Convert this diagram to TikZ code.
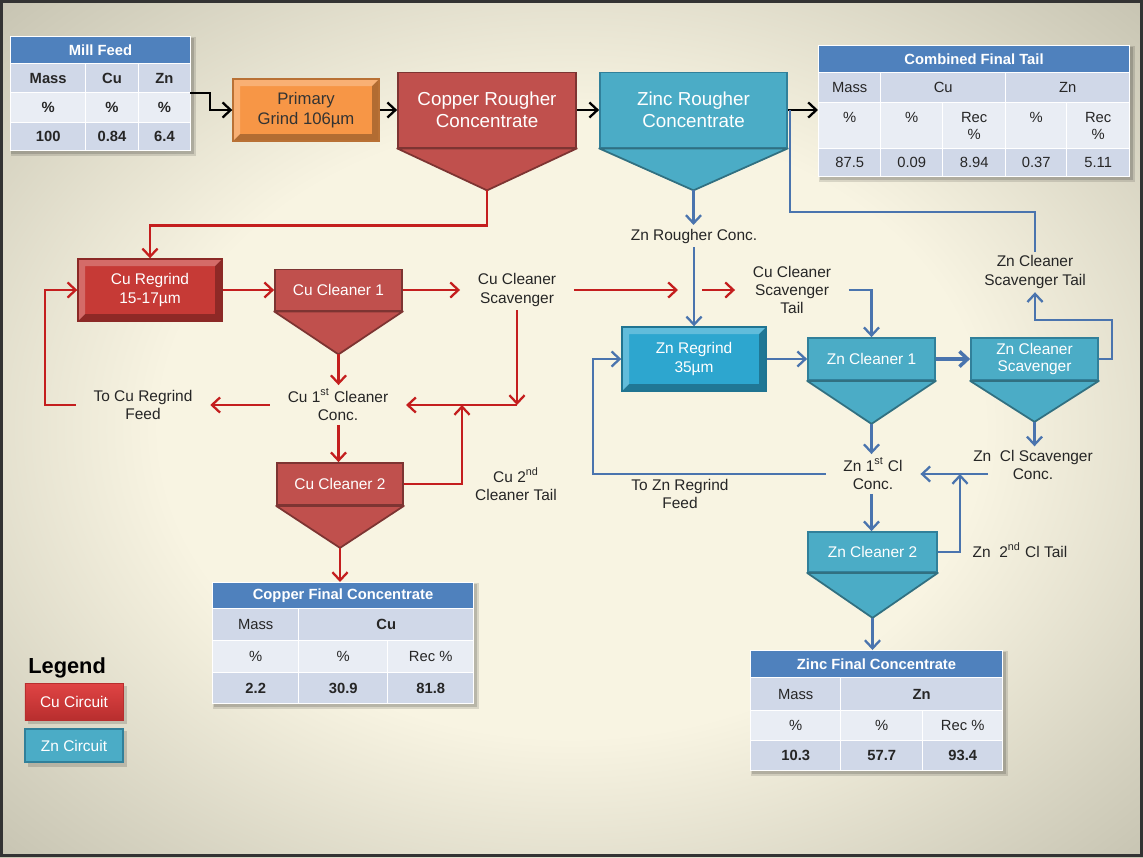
\documentclass[tikz,border=0pt]{standalone}
\usepackage{fontspec}
\setmainfont{Liberation Sans}
\usetikzlibrary{arrows.meta,calc}

\definecolor{cured}{HTML}{C0504D}
\definecolor{znblue}{HTML}{4BACC6}
\definecolor{zndark}{HTML}{31809A}
\definecolor{culine}{HTML}{C41E1E}
\definecolor{znline}{HTML}{4A74AE}
\definecolor{hdrblue}{HTML}{4F81BD}
\definecolor{rowdark}{HTML}{D0D8E8}
\definecolor{rowlight}{HTML}{E9EDF4}
\definecolor{grindorange}{HTML}{F79646}
\definecolor{regrindred}{HTML}{C63A36}
\definecolor{regrindblue}{HTML}{2DA6CF}
\definecolor{legtop}{HTML}{E04444}
\definecolor{legbottom}{HTML}{B82E2E}
\definecolor{bgin}{HTML}{F8F4E2}
\definecolor{bgout}{HTML}{9E9C8A}
\pgfdeclareradialshading{paper}{\pgfpoint{0bp}{0bp}}{color(0bp)=(bgin); color(18bp)=(bgin); color(50bp)=(bgout)}

\newcommand{\lblfont}{\fontsize{8.8}{10.4}\selectfont}
\newcommand{\tabfont}{\fontsize{8.4}{9.6}\selectfont}
\newcommand{\ttlfont}{\fontsize{10.7}{12.6}\selectfont}
\newcommand{\grindfont}{\fontsize{9.5}{11.4}\selectfont}

\begin{document}
\begin{tikzpicture}[
            >={Straight Barb[length=4.6pt,width=8.6pt]}, % open arrow heads
            cucell/.style={rectangle, fill=cured, draw=cured!65!black, line width=1pt,
                text=white, font=\lblfont, inner sep=0pt},
            zncell/.style={rectangle, fill=znblue, draw=zndark, line width=1pt,
                text=white, font=\lblfont, inner sep=0pt},
            grind/.style={rectangle, inner sep=0pt, line width=0.8pt, align=center,
                path picture={
                \fill[black, opacity=0.28] (path picture bounding box.south west)
                    -- (path picture bounding box.south east)
                    -- (path picture bounding box.north east)
                    -- ([shift={(-0.14,-0.14)}]path picture bounding box.north east)
                    -- ([shift={(-0.14,0.14)}]path picture bounding box.south east)
                    -- ([shift={(0.14,0.14)}]path picture bounding box.south west) -- cycle;
                \fill[white, opacity=0.25] (path picture bounding box.south west)
                    -- ([shift={(0.14,0.14)}]path picture bounding box.south west)
                    -- ([shift={(0.14,-0.14)}]path picture bounding box.north west)
                    -- ([shift={(-0.14,-0.14)}]path picture bounding box.north east)
                    -- (path picture bounding box.north east)
                    -- (path picture bounding box.north west) -- cycle;
                }},
            flowtext/.style={font=\lblfont, text=black!85, align=center,
                inner xsep=0.35cm, inner ysep=2pt},
            thead/.style={fill=hdrblue, draw=white, line width=0.6pt, text=white,
                font=\tabfont\bfseries, inner sep=0pt, anchor=north west},
            tcell/.style={draw=white, line width=0.8pt, inner sep=0pt, anchor=north west,
                font=\tabfont, align=center, text=black!85},
            legbox/.style={rectangle, text=white, font=\lblfont, inner sep=0pt,
                minimum width=1.96cm},
            feed arrow/.style={->, draw=black, line width=1.3pt},
            cu arrow/.style={->, draw=culine, line width=1.3pt},
            zn arrow/.style={->, draw=znline, line width=1.3pt},
            zn line/.style={draw=znline, line width=1.3pt}
            ]
            \useasboundingbox (0,0) rectangle (22.86,-17.14);
            \shade[shading=paper] (0,0) rectangle (22.86,-17.14);
            \draw[line width=1.2pt, black!80] (0.03,-0.03) rectangle (22.83,-17.11);

            % table shadows
            \foreach \xa/\ya/\xb/\yb in {0.2/-0.72/3.8/-3.0, 16.36/-0.9/22.58/-3.52,
                4.24/-11.64/9.46/-14.06, 15.0/-13.0/20.04/-15.4}
            {
                \fill[black, opacity=0.12] (\xa+0.02,\ya-0.02) rectangle (\xb+0.12,\yb-0.12);
                \fill[black, opacity=0.15] (\xa+0.03,\ya-0.03) rectangle (\xb+0.07,\yb-0.07);
            }

            % tables
            \node[thead, minimum width=3.6cm, minimum height=0.54cm] (mfhead) at (0.2,-0.72) {Mill Feed};
            \foreach \x/\w/\t [count=\i] in {0.2/1.5/Mass, 1.7/1.05/Cu, 2.75/1.05/Zn}
                \node[tcell, fill=rowdark, minimum width=\w cm, minimum height=0.58cm,
                font=\tabfont\bfseries] (mfa\i) at (\x,-1.26) {\t};
            \foreach \x/\w/\t [count=\i] in {0.2/1.5/\%, 1.7/1.05/\%, 2.75/1.05/\%}
                \node[tcell, fill=rowlight, minimum width=\w cm, minimum height=0.6cm,
                font=\tabfont\bfseries] (mfb\i) at (\x,-1.84) {\t};
            \foreach \x/\w/\t [count=\i] in {0.2/1.5/100, 1.7/1.05/0.84, 2.75/1.05/6.4}
                \node[tcell, fill=rowdark, minimum width=\w cm, minimum height=0.56cm,
                font=\tabfont\bfseries] (mfc\i) at (\x,-2.44) {\t};

            \node[thead, minimum width=6.22cm, minimum height=0.54cm] (tailhead) at (16.36,-0.9) {Combined Final Tail};
            \foreach \x/\w/\t [count=\i] in {16.36/1.24/Mass, 17.6/2.5/Cu, 20.1/2.48/Zn}
                \node[tcell, fill=rowdark, minimum width=\w cm, minimum height=0.6cm] (fta\i) at (\x,-1.44) {\t};
            \foreach \x/\w/\t [count=\i] in {16.36/1.24/{\%\\\mbox{}}, 17.6/1.24/{\%\\\mbox{}},
                18.84/1.26/{Rec\\\%}, 20.1/1.22/{\%\\\mbox{}}, 21.32/1.26/{Rec\\\%}}
                \node[tcell, fill=rowlight, minimum width=\w cm, minimum height=0.92cm] (ftb\i) at (\x,-2.04) {\t};
            \foreach \x/\w/\t [count=\i] in {16.36/1.24/87.5, 17.6/1.24/0.09, 18.84/1.26/8.94,
                20.1/1.22/0.37, 21.32/1.26/5.11}
                \node[tcell, fill=rowdark, minimum width=\w cm, minimum height=0.56cm] (ftc\i) at (\x,-2.96) {\t};

            \node[thead, minimum width=5.22cm, minimum height=0.52cm] (cuhead) at (4.24,-11.64) {Copper Final Concentrate};
            \foreach \x/\w/\t [count=\i] in {4.24/1.72/Mass, 5.96/3.5/\textbf{Cu}}
                \node[tcell, fill=rowdark, minimum width=\w cm, minimum height=0.64cm] (cfa\i) at (\x,-12.16) {\t};
            \foreach \x/\w/\t [count=\i] in {4.24/1.72/\%, 5.96/1.78/\%, 7.74/1.72/Rec \%}
                \node[tcell, fill=rowlight, minimum width=\w cm, minimum height=0.64cm] (cfb\i) at (\x,-12.8) {\t};
            \foreach \x/\w/\t [count=\i] in {4.24/1.72/2.2, 5.96/1.78/30.9, 7.74/1.72/81.8}
                \node[tcell, fill=rowdark, minimum width=\w cm, minimum height=0.62cm,
                font=\tabfont\bfseries] (cfc\i) at (\x,-13.44) {\t};

            \node[thead, minimum width=5.04cm, minimum height=0.54cm] (znhead) at (15.0,-13.0) {Zinc Final Concentrate};
            \foreach \x/\w/\t [count=\i] in {15.0/1.8/Mass, 16.8/3.24/\textbf{Zn}}
                \node[tcell, fill=rowdark, minimum width=\w cm, minimum height=0.66cm] (zfa\i) at (\x,-13.54) {\t};
            \foreach \x/\w/\t [count=\i] in {15.0/1.8/\%, 16.8/1.64/\%, 18.44/1.6/Rec \%}
                \node[tcell, fill=rowlight, minimum width=\w cm, minimum height=0.6cm] (zfb\i) at (\x,-14.2) {\t};
            \foreach \x/\w/\t [count=\i] in {15.0/1.8/10.3, 16.8/1.64/57.7, 18.44/1.6/93.4}
                \node[tcell, fill=rowdark, minimum width=\w cm, minimum height=0.6cm,
                font=\tabfont\bfseries] (zfc\i) at (\x,-14.8) {\t};

            % grinding
            \node[grind, fill=grindorange, draw=grindorange!75!black, font=\grindfont, text=black!80,
                minimum width=2.92cm, minimum height=1.24cm] (pg) at (6.12,-2.2) {Primary\\Grind 106µm};
            \node[grind, fill=regrindred, draw=regrindred!70!black, font=\lblfont, text=white,
                minimum width=2.88cm, minimum height=1.24cm] (cg) at (3.0,-5.8) {Cu Regrind\\15-17µm};
            \node[grind, fill=regrindblue, draw=regrindblue!70!black, font=\lblfont, text=white,
                minimum width=2.88cm, minimum height=1.28cm] (zg) at (13.88,-7.18) {Zn Regrind\\35µm};

            % flotation cells
            \node[cucell, font=\ttlfont, align=center, minimum width=3.56cm, minimum height=1.5cm] (cr) at (9.74,-2.2) {Copper Rougher\\Concentrate};
            \node[zncell, font=\ttlfont, align=center, minimum width=3.74cm, minimum height=1.5cm] (zr) at (13.87,-2.2) {Zinc Rougher\\Concentrate};
            \node[cucell, minimum width=2.54cm, minimum height=0.82cm] (c1) at (6.77,-5.8) {Cu Cleaner 1};
            \node[cucell, minimum width=2.52cm, minimum height=0.84cm] (c2) at (6.8,-9.68) {Cu Cleaner 2};
            \node[zncell, minimum width=2.54cm, minimum height=0.84cm] (z1) at (17.43,-7.18) {Zn Cleaner 1};
            \node[zncell, align=center, font=\fontsize{8.8}{9.6}\selectfont, minimum width=2.54cm,
                minimum height=0.84cm] (zs) at (20.69,-7.18) {Zn Cleaner\\Scavenger};
            \node[zncell, minimum width=2.58cm, minimum height=0.8cm] (z2) at (17.45,-11.04) {Zn Cleaner 2};
            \foreach \n/\d/\f in {cr/0.84/cured, zr/0.84/znblue, c1/0.86/cured, c2/0.84/cured,
                z1/0.86/znblue, zs/0.82/znblue, z2/0.9/znblue}
                \filldraw[fill=\f, draw=\f!65!black, line width=1pt, line join=round]
                (\n.south west) -- (\n.south east) -- ($(\n.south)+(0,-\d)$) coordinate (\n-tip) -- cycle;

            % stream labels
            \node[flowtext] (cscav) at (10.34,-5.8) {Cu Cleaner\\Scavenger};
            \node[flowtext] (c1conc) at (6.76,-8.1) {Cu 1\textsuperscript{st} Cleaner\\Conc.};
            \node[flowtext] (tocu) at (2.86,-8.1) {To Cu Regrind\\Feed};
            \node[flowtext] (c2tail) at (10.32,-9.68) {Cu 2\textsuperscript{nd}\\Cleaner Tail};
            \node[flowtext] (zrconc) at (13.88,-4.72) {Zn Rougher Conc.};
            \node[flowtext] (cstail) at (15.84,-5.8) {Cu Cleaner\\Scavenger\\Tail};
            \node[flowtext] (zstail) at (20.7,-5.44) {Zn Cleaner\\Scavenger Tail};
            \node[flowtext] (z1conc) at (17.46,-9.48) {Zn 1\textsuperscript{st} Cl\\Conc.};
            \node[flowtext] (zsconc) at (20.66,-9.3) {Zn\ \ Cl Scavenger\\Conc.};
            \node[flowtext] (tozn) at (13.6,-9.88) {To Zn Regrind\\Feed};
            \node[flowtext] (z2tail) at (20.4,-11.0) {Zn\ \ 2\textsuperscript{nd} Cl Tail};

            % legend
            \node[font=\fontsize{12.4}{14}\selectfont\bfseries, anchor=west, inner sep=0pt] (legend) at (0.56,-13.36) {Legend};
            \fill[black, opacity=0.15] (0.56,-13.72) rectangle (2.54,-14.47);
            \fill[black, opacity=0.15] (0.56,-14.62) rectangle (2.54,-15.33);
            \node[legbox, top color=legtop, bottom color=legbottom, draw=legbottom,
                minimum height=0.74cm] (legcu) at (1.48,-14.03) {Cu Circuit};
            \node[legbox, fill=znblue, draw=zndark, line width=1.5pt, minimum height=0.66cm] (legzn) at (1.48,-14.91) {Zn Circuit};

            \coordinate (mf-out) at (3.8,-1.86);
            \coordinate (tail-in) at (16.36,-2.2);
            \coordinate (tail-join) at (15.8,-2.2);
            \coordinate (tail-turn) at (20.7,-4.24);
            \coordinate (cu-back) at (0.9,-8.1);
            \coordinate (cu-merge) at (9.24,-8.1);
            \coordinate (cu-gap1) at (13.56,-5.8);
            \coordinate (cu-gap2) at (14.04,-5.8);
            \coordinate (zn-back) at (11.86,-9.48);
            \coordinate (zn-merge) at (19.2,-9.48);
            \coordinate (zs-out) at (19.76,-9.48);
            \coordinate (zs-loop) at (22.24,-6.4);

            % main line
            \draw[feed arrow] (mf-out) -- ++(0.4,0) |- (pg.west);
            \draw[feed arrow] (pg.east) -- (pg.east -| cr.west);
            \draw[feed arrow] (cr.east) -- (zr.west);
            \draw[feed arrow] (zr.east) -- (tail-in);

            % copper circuit
            \draw[cu arrow] (cr-tip) -- ++(0,-0.7) -| (cg.north);
            \draw[cu arrow] (cg.east) -- (c1.west);
            \draw[cu arrow] (c1.east) -- (cscav.west);
            \draw[cu arrow] (c1-tip) -- (c1-tip |- c1conc.north);
            \draw[cu arrow] (cscav.south) -- (cscav.south |- c1conc.east);
            \draw[cu arrow] (cscav.south |- c1conc.east) -- (c1conc.east);
            \draw[cu arrow] (c1conc.west) -- (tocu.east);
            \draw[cu arrow] (tocu.west) -- (cu-back) |- (cg.west);
            \draw[cu arrow] (c1conc.south -| c1-tip) -- (c1-tip |- c2.north);
            \draw[cu arrow] (c2.east) -| (cu-merge);
            \draw[cu arrow] (c2-tip) -- (c2-tip |- cuhead.north);
            \draw[cu arrow] (cscav.east) -- (cu-gap1);
            \draw[cu arrow] (cu-gap2) -- (cstail.west);

            % zinc circuit
            \draw[zn line] (zstail.north) -- (tail-turn) -| (tail-join);
            \draw[zn arrow] (zr-tip) -- (zr-tip |- zrconc.north);
            \draw[zn arrow] (zrconc.south) -- (zg.north);
            \draw[zn arrow] (cstail.east) -| (z1.north);
            \draw[zn arrow] (zg.east) -- (z1.west);
            \draw[zn arrow, line width=2pt] (z1.east) -- (zs.west);
            \draw[zn arrow] (zs.east) -| (zs-loop) -| (zstail.south);
            \draw[zn arrow] (zs-tip) -- (zs-tip |- zsconc.north);
            \draw[zn arrow] (zs-out) -- (z1conc.east);
            \draw[zn arrow] (z2.east) -| (zn-merge);
            \draw[zn arrow] (z1-tip) -- (z1-tip |- z1conc.north);
            \draw[zn arrow] (z1conc.west) -- (zn-back) |- (zg.west);
            \draw[zn arrow] (z1conc.south -| z1-tip) -- (z1-tip |- z2.north);
            \draw[zn arrow] (z2-tip) -- (z2-tip |- znhead.north);
        \end{tikzpicture}
\end{document}
